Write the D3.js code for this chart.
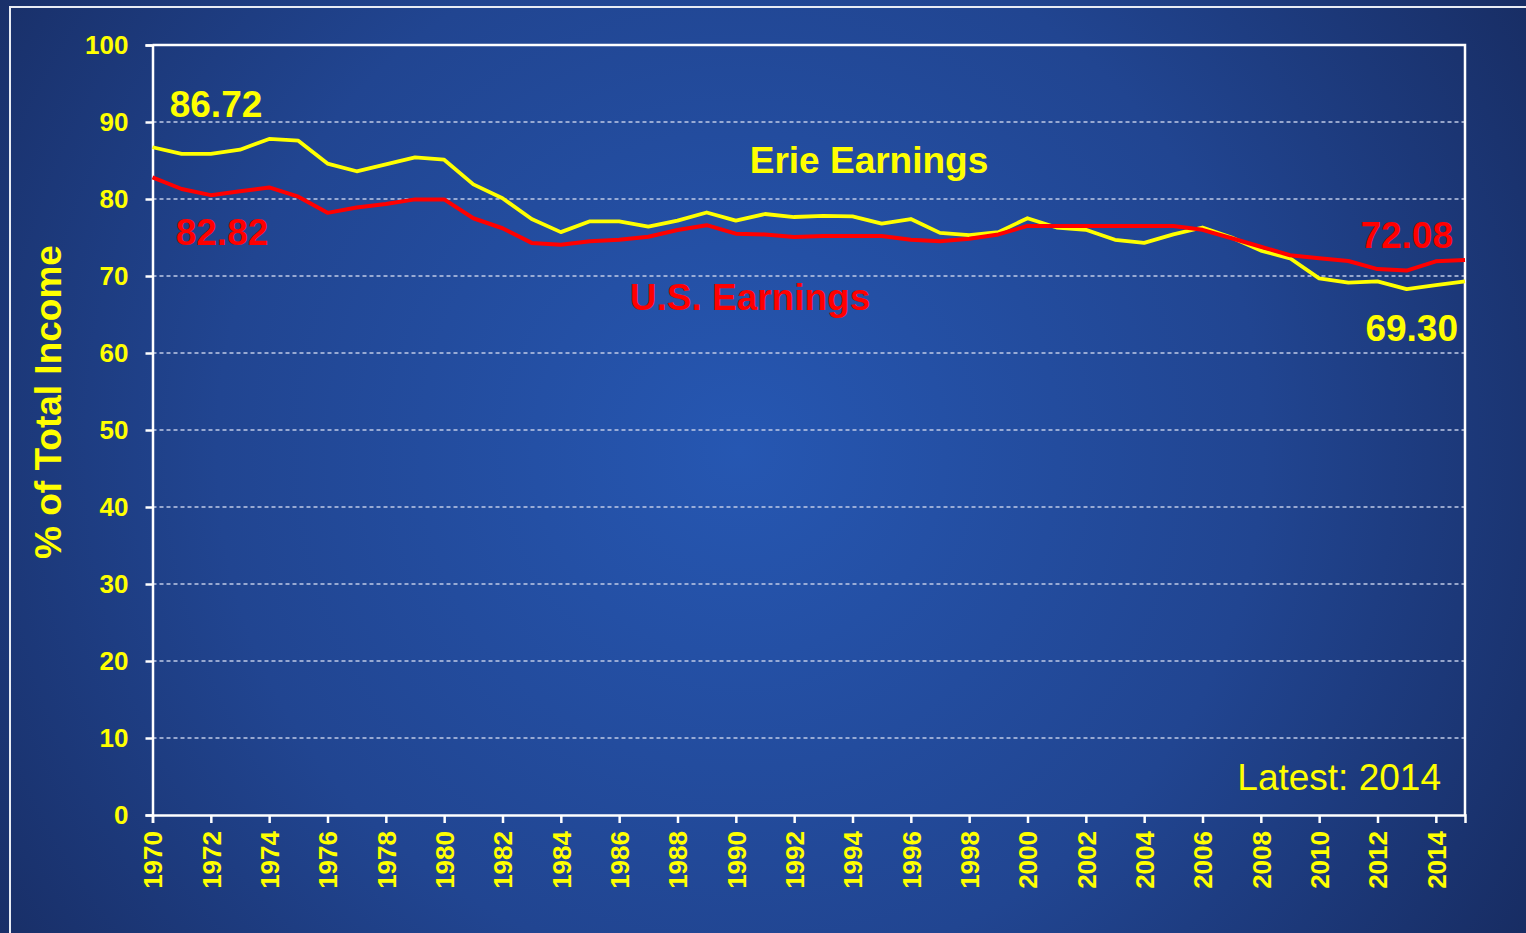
<!DOCTYPE html>
<html>
<head>
<meta charset="utf-8">
<script src="https://cdn.jsdelivr.net/npm/d3@7"></script>
<style>
  html, body { margin: 0; padding: 0; background: #1c3574; }
  svg { display: block; }
  text { font-family: "Liberation Sans", Arial, sans-serif; }
</style>
</head>
<body>
<svg id="chart" width="1526" height="933"></svg>
<script>
const years = [1970, 1971, 1972, 1973, 1974, 1975, 1976, 1977, 1978, 1979,
  1980, 1981, 1982, 1983, 1984, 1985, 1986, 1987, 1988, 1989,
  1990, 1991, 1992, 1993, 1994, 1995, 1996, 1997, 1998, 1999,
  2000, 2001, 2002, 2003, 2004, 2005, 2006, 2007, 2008, 2009,
  2010, 2011, 2012, 2013, 2014, 2015];

const erieEarnings = [86.72, 85.86, 85.86, 86.4, 87.8, 87.57, 84.6, 83.6, 84.5, 85.4,
  85.1, 81.9, 80.1, 77.4, 75.7, 77.1, 77.1, 76.4, 77.2, 78.25,
  77.2, 78.05, 77.66, 77.8, 77.75, 76.8, 77.4, 75.6, 75.3, 75.7,
  77.5, 76.3, 76.0, 74.7, 74.3, 75.4, 76.3, 75.0, 73.3, 72.3,
  69.7, 69.15, 69.3, 68.3, 68.8, 69.30];

const usEarnings = [82.82, 81.3, 80.5, 81.0, 81.5, 80.3, 78.2, 78.9, 79.35, 79.95,
  79.95, 77.5, 76.2, 74.3, 74.05, 74.5, 74.7, 75.1, 75.97, 76.6,
  75.5, 75.4, 75.06, 75.2, 75.2, 75.2, 74.7, 74.5, 74.85, 75.4,
  76.5, 76.5, 76.5, 76.5, 76.5, 76.5, 76.0, 74.9, 73.8, 72.7,
  72.3, 71.95, 70.9, 70.7, 71.9, 72.08];

const yTicks = [0, 10, 20, 30, 40, 50, 60, 70, 80, 90, 100];
const xTicks = [1970, 1972, 1974, 1976, 1978, 1980, 1982, 1984, 1986, 1988, 1990,
  1992, 1994, 1996, 1998, 2000, 2002, 2004, 2006, 2008, 2010, 2012, 2014];

const svg = d3.select("#chart");
const W = 1526, H = 933;
const plot = { left: 152.5, right: 1465, top: 45, bottom: 815 };

// background
const defs = svg.append("defs");
const grad = defs.append("radialGradient")
  .attr("id", "bg")
  .attr("gradientUnits", "userSpaceOnUse")
  .attr("cx", 740).attr("cy", 450).attr("r", 950);
grad.append("stop").attr("offset", "0%").attr("stop-color", "#2657b2");
grad.append("stop").attr("offset", "55%").attr("stop-color", "#214591");
grad.append("stop").attr("offset", "100%").attr("stop-color", "#172b60");
svg.append("rect").attr("width", W).attr("height", H).attr("fill", "url(#bg)");

// outer frame
svg.append("path")
  .attr("d", `M10,${H}V7H${W}`)
  .attr("fill", "none")
  .attr("stroke", "#e8ecf4")
  .attr("stroke-width", 2);

const x = d3.scaleLinear().domain([1970, 2015]).range([plot.left, plot.right]);
const y = d3.scaleLinear().domain([0, 100]).range([plot.bottom, plot.top]);

// gridlines
svg.append("g")
  .selectAll("line")
  .data(yTicks.filter(d => d > 0 && d < 100))
  .join("line")
  .attr("x1", plot.left).attr("x2", plot.right)
  .attr("y1", d => y(d)).attr("y2", d => y(d))
  .attr("stroke", "#c0cae6")
  .attr("stroke-width", 1.3)
  .attr("stroke-dasharray", "4,3");

// plot frame (top and right)
svg.append("path")
  .attr("d", `M${plot.left},${plot.top}H${plot.right}V${plot.bottom}`)
  .attr("fill", "none")
  .attr("stroke", "#ffffff")
  .attr("stroke-width", 2.5);

// y axis
const yAxis = svg.append("g")
  .attr("transform", `translate(${plot.left},0)`)
  .call(d3.axisLeft(y).tickValues(yTicks).tickSize(7).tickPadding(17).tickFormat(d3.format("d")));
yAxis.select(".domain").attr("stroke", "#fff").attr("stroke-width", 2.5);
yAxis.selectAll(".tick line").attr("stroke", "#fff").attr("stroke-width", 2.5);
yAxis.selectAll(".tick text")
  .attr("fill", "#ffff00")
  .attr("font-size", 26)
  .attr("font-weight", "bold")
  .attr("font-family", "Liberation Sans, Arial, sans-serif");

// x axis
const xAxis = svg.append("g")
  .attr("transform", `translate(0,${plot.bottom})`)
  .call(d3.axisBottom(x).tickValues(xTicks).tickSize(8).tickFormat(d3.format("d")));
xAxis.select(".domain").attr("stroke", "#fff").attr("stroke-width", 2.5);
xAxis.selectAll(".tick line").attr("stroke", "#fff").attr("stroke-width", 2.5);
xAxis.selectAll(".tick text")
  .attr("fill", "#ffff00")
  .attr("font-size", 26)
  .attr("font-weight", "bold")
  .attr("font-family", "Liberation Sans, Arial, sans-serif")
  .attr("transform", "rotate(-90)")
  .attr("text-anchor", "end")
  .attr("x", -16)
  .attr("y", 0)
  .attr("dy", "0.36em");

// y axis title
svg.append("text")
  .attr("transform", "rotate(-90)")
  .attr("x", -402)
  .attr("y", 61)
  .attr("text-anchor", "middle")
  .attr("fill", "#ffff00")
  .attr("font-size", 37)
  .attr("font-weight", "bold")
  .text("% of Total Income");

// lines
const line = d3.line()
  .x((d, i) => x(years[i]))
  .y(d => y(d));

svg.append("path")
  .datum(erieEarnings)
  .attr("fill", "none")
  .attr("stroke", "#ffff00")
  .attr("stroke-width", 3.8)
  .attr("stroke-linejoin", "round")
  .attr("d", line);

svg.append("path")
  .datum(usEarnings)
  .attr("fill", "none")
  .attr("stroke", "#ff0000")
  .attr("stroke-width", 4)
  .attr("stroke-linejoin", "round")
  .attr("d", line);

// annotations
const labels = [
  { t: "86.72", x: 216, y: 117, c: "#ffff00", a: "middle" },
  { t: "82.82", x: 222, y: 245, c: "#ff0000", a: "middle" },
  { t: "Erie Earnings", x: 869, y: 173, c: "#ffff00", a: "middle" },
  { t: "U.S. Earnings", x: 750, y: 310, c: "#ff0000", a: "middle" },
  { t: "72.08", x: 1453, y: 248, c: "#ff0000", a: "end" },
  { t: "69.30", x: 1458, y: 341, c: "#ffff00", a: "end" }
];
svg.append("g")
  .selectAll("text")
  .data(labels)
  .join("text")
  .attr("x", d => d.x)
  .attr("y", d => d.y)
  .attr("text-anchor", d => d.a)
  .attr("fill", d => d.c)
  .attr("font-size", 37)
  .attr("font-weight", "bold")
  .text(d => d.t);

svg.append("text")
  .attr("x", 1441)
  .attr("y", 790)
  .attr("text-anchor", "end")
  .attr("fill", "#ffff00")
  .attr("font-size", 37)
  .text("Latest: 2014");
</script>
</body>
</html>
